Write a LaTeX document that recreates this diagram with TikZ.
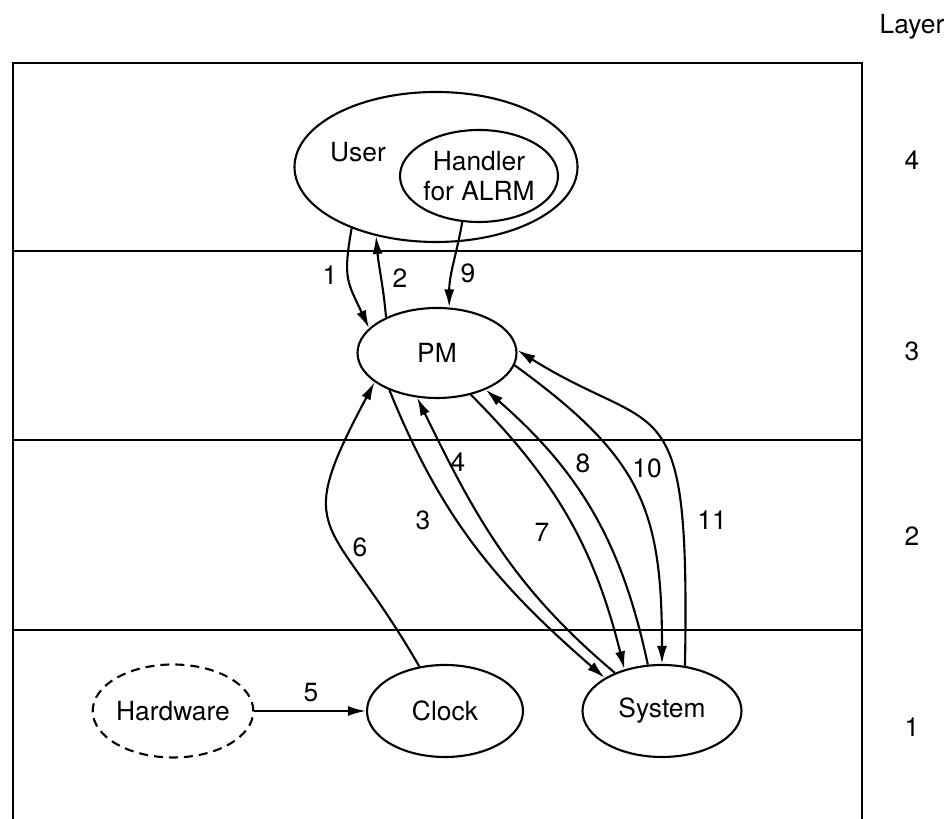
\documentclass[tikz,border=0pt]{standalone}
\usepackage{fontspec}
\setmainfont{TeX Gyre Heros}
\usetikzlibrary{positioning, arrows.meta, shapes.geometric}

\begin{document}
\begin{tikzpicture}[
    every node/.style={font=\fontsize{15}{17}\selectfont},
    proc/.style={
      draw, ellipse, line width=1.2pt, inner sep=0pt,
      minimum width=3.18cm, minimum height=1.84cm
    },
    frame/.style={line width=1.3pt},
    arrow/.style={-{Latex[length=3.6mm, width=2mm]}, line width=1.2pt}
]
  \useasboundingbox (0,0) rectangle (18.96,16.38);

  % layers
  \draw[frame] (0.26,0) -- (0.26,15.12) -- (17.24,15.12) -- (17.24,0);
  \draw[frame] (0.26,11.36) -- (17.24,11.36);
  \draw[frame] (0.26,7.58) -- (17.24,7.58);
  \draw[frame] (0.26,3.78) -- (17.24,3.78);

  \node (layer) at (18.24,15.84) {Layer};
  \node (lay4) at (18.24,13.18) {4};
  \node (lay3) at (18.24,9.36) {3};
  \node (lay2) at (18.24,5.66) {2};
  \node (lay1) at (18.24,1.84) {1};

  % processes
  \node[proc, minimum width=5.66cm, minimum height=3cm] (user) at (8.72,13.04) {};
  \node (userlbl) at (7.16,13.34) {User};
  \node[proc, minimum width=3.16cm, align=center] (handler) at (9.58,12.86) {Handler\\for ALRM};
  \node[proc, minimum height=1.8cm] (pm) at (8.74,9.32) {PM};
  \node[proc, dash pattern=on 0.18cm off 0.12cm, minimum width=3.2cm, minimum height=1.86cm] (hw) at (3.46,2.16) {Hardware};
  \node[proc, minimum width=3.12cm] (clock) at (8.90,2.16) {Clock};
  \node[proc] (system) at (13.24,2.16) {System};

  % messages
  \draw[arrow] (user.216) to[out=260, in=115, looseness=1.3] (pm.160);
  \draw[arrow] (pm.145) to[out=95, in=-85] (user.229);
  \draw[arrow] (pm.218) to[out=-68, in=139] (system.150);
  \draw[arrow] (system.141) to[out=140, in=-64] (pm.246);
  \draw[arrow] (hw.east) -- (clock.west);
  \draw[arrow] (clock.120) .. controls +(120:3.6) and +(242:3.6) .. (pm.205);
  \draw[arrow] (pm.309) to[out=-45, in=104] (system.132);
  \draw[arrow] (system.107) to[out=102, in=-41] (pm.323);
  \draw[arrow] (handler.250) to[out=-100, in=90] (pm.75);
  \draw[arrow] (pm.351) to[out=-36, in=90, looseness=1.2] (system.90);
  \draw[arrow] (system.63) .. controls +(89:5.76) and +(-32:3.4) .. (pm.2);

  \node (l1) at (6.60,10.88) {1};
  \node (l2) at (8.00,10.82) {2};
  \node (l3) at (8.46,5.98) {3};
  \node (l4) at (9.16,7.14) {4};
  \node (l5) at (6.22,2.52) {5};
  \node (l6) at (7.20,5.44) {6};
  \node (l7) at (10.84,5.74) {7};
  \node (l8) at (11.66,7.12) {8};
  \node (l9) at (9.36,10.92) {9};
  \node (l10) at (12.94,7.02) {10};
  \node (l11) at (14.24,5.98) {11};
\end{tikzpicture}
\end{document}
